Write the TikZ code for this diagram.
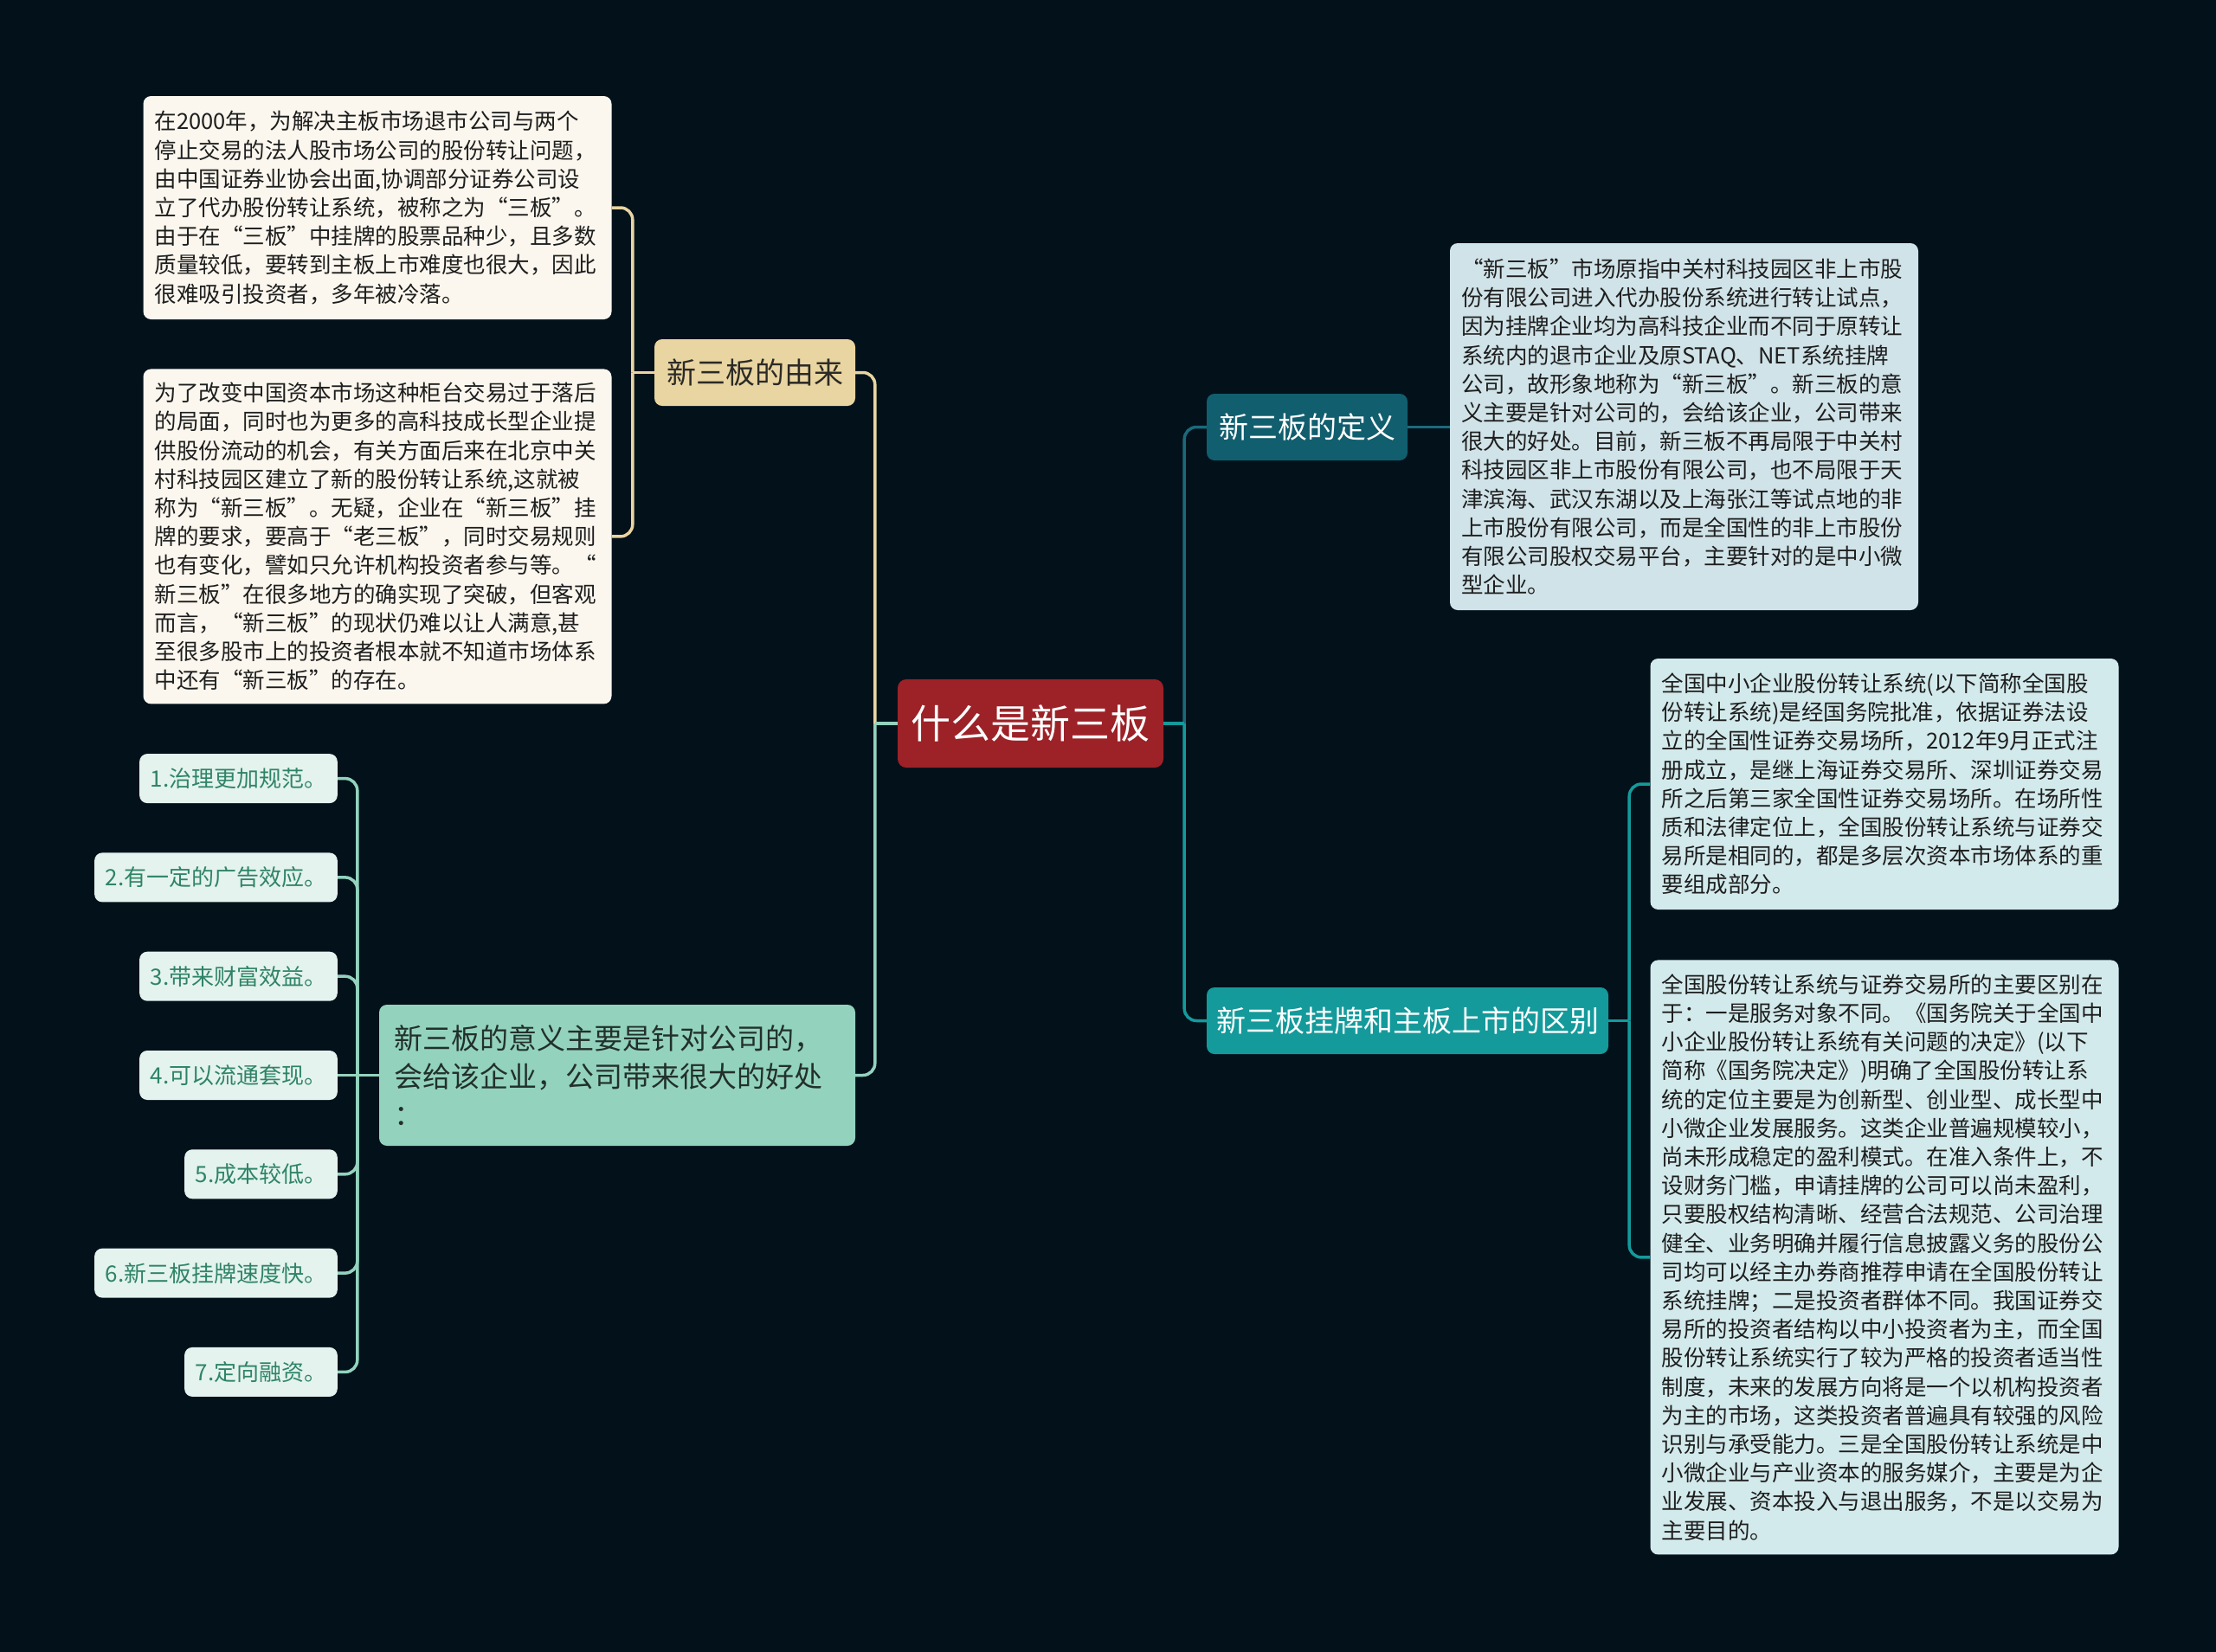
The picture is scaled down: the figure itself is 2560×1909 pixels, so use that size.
\documentclass[tikz,border=0pt]{standalone}
\usepackage{fontspec}
\setmainfont{Noto Sans CJK SC}
\usepackage{tikz}
\usetikzlibrary{positioning}

\definecolor{bgdark}{HTML}{03111B}
\definecolor{rootred}{HTML}{9C2228}
\definecolor{origfill}{HTML}{E9D5A1}
\definecolor{origtext}{HTML}{2B2A26}
\definecolor{cream}{HTML}{FBF7EE}
\definecolor{sigfill}{HTML}{93D3BE}
\definecolor{sigtext}{HTML}{22302C}
\definecolor{itemfill}{HTML}{E4F3EE}
\definecolor{itemtext}{HTML}{2F8466}
\definecolor{deffill}{HTML}{115E6E}
\definecolor{defbox}{HTML}{D0E3E8}
\definecolor{difffill}{HTML}{149A9B}
\definecolor{diffbox}{HTML}{D3EAEC}
\definecolor{notetext}{HTML}{1E1E1E}
\definecolor{deepteal}{HTML}{1B6A7A}

\begin{document}
\begin{tikzpicture}[
    x=1pt, y=-1pt,
    root/.style={fill=rootred, rounded corners=10pt, text=white, minimum width=307pt, minimum height=102pt, inner sep=0pt, font=\fontsize{46pt}{55pt}\selectfont},
    topic/.style={rounded corners=9pt, minimum height=77pt, inner sep=0pt, font=\fontsize{34pt}{40pt}\selectfont},
    note/.style={rounded corners=9pt, inner xsep=13pt, inner ysep=0pt, text width=515pt, align=left, text=notetext, font=\fontsize{25.5pt}{33.2pt}\selectfont},
    item/.style={fill=itemfill, text=itemtext, rounded corners=9pt, minimum height=57pt, inner xsep=12.5pt, inner ysep=0pt, anchor=east, font=\fontsize{26pt}{30pt}\selectfont},
    link/.style={line width=3.5pt, rounded corners=14pt}
]

\fill[bgdark] (0,0) rectangle (2560,1909);
\useasboundingbox (0,0) rectangle (2560,1909);

\node[root] (ctr) at (1190.5,836) {什么是新三板};

% Origin branch
\node[topic, fill=origfill, text=origtext, minimum width=232pt] (origin) at (872,430.5) {新三板的由来};
\node[note, fill=cream, minimum height=258pt] (hist1) at (436,240) {在2000年，为解决主板市场退市公司与两个\\停止交易的法人股市场公司的股份转让问题，\\由中国证券业协会出面,协调部分证券公司设\\立了代办股份转让系统，被称之为“三板”。\\由于在“三板”中挂牌的股票品种少，且多数\\质量较低，要转到主板上市难度也很大，因此\\很难吸引投资者，多年被冷落。};
\node[note, fill=cream, minimum height=387pt, below=57pt of hist1] (hist2) {为了改变中国资本市场这种柜台交易过于落后\\的局面，同时也为更多的高科技成长型企业提\\供股份流动的机会，有关方面后来在北京中关\\村科技园区建立了新的股份转让系统,这就被\\称为“新三板”。无疑，企业在“新三板”挂\\牌的要求，要高于“老三板”，同时交易规则\\也有变化，譬如只允许机构投资者参与等。“\\新三板”在很多地方的确实现了突破，但客观\\而言，“新三板”的现状仍难以让人满意,甚\\至很多股市上的投资者根本就不知道市场体系\\中还有“新三板”的存在。};

% Significance branch
\node[topic, fill=sigfill, text=sigtext, minimum width=550pt, minimum height=163pt, text width=516pt, inner xsep=17pt, align=left, font=\fontsize{33pt}{44pt}\selectfont] (sig) at (713,1242.5) {新三板的意义主要是针对公司的，\\会给该企业，公司带来很大的好处\\：};
\node[item] (i1) at (390,899.6) {1.治理更加规范。};
\node[item] (i2) at (390,1013.9) {2.有一定的广告效应。};
\node[item] (i3) at (390,1128.2) {3.带来财富效益。};
\node[item] (i4) at (390,1242.5) {4.可以流通套现。};
\node[item] (i5) at (390,1356.8) {5.成本较低。};
\node[item] (i6) at (390,1471.1) {6.新三板挂牌速度快。};
\node[item] (i7) at (390,1585.4) {7.定向融资。};

% Definition branch
\node[topic, fill=deffill, text=white, minimum width=232pt] (defn) at (1510,493.5) {新三板的定义};
\node[note, fill=defbox, minimum height=424pt] (defnote) at (1945.5,493) {“新三板”市场原指中关村科技园区非上市股\\份有限公司进入代办股份系统进行转让试点，\\因为挂牌企业均为高科技企业而不同于原转让\\系统内的退市企业及原STAQ、NET系统挂牌\\公司，故形象地称为“新三板”。新三板的意\\义主要是针对公司的，会给该企业，公司带来\\很大的好处。目前，新三板不再局限于中关村\\科技园区非上市股份有限公司，也不局限于天\\津滨海、武汉东湖以及上海张江等试点地的非\\上市股份有限公司，而是全国性的非上市股份\\有限公司股权交易平台，主要针对的是中小微\\型企业。};

% Difference branch
\node[topic, fill=difffill, text=white, minimum width=464pt] (diff) at (1626,1179.5) {新三板挂牌和主板上市的区别};
\node[note, fill=diffbox, minimum height=290pt] (diff1) at (2177,906) {全国中小企业股份转让系统(以下简称全国股\\份转让系统)是经国务院批准，依据证券法设\\立的全国性证券交易场所，2012年9月正式注\\册成立，是继上海证券交易所、深圳证券交易\\所之后第三家全国性证券交易场所。在场所性\\质和法律定位上，全国股份转让系统与证券交\\易所是相同的，都是多层次资本市场体系的重\\要组成部分。};
\node[note, fill=diffbox, minimum height=687pt, below=58pt of diff1] (diff2) {全国股份转让系统与证券交易所的主要区别在\\于：一是服务对象不同。《国务院关于全国中\\小企业股份转让系统有关问题的决定》(以下\\简称《国务院决定》)明确了全国股份转让系\\统的定位主要是为创新型、创业型、成长型中\\小微企业发展服务。这类企业普遍规模较小，\\尚未形成稳定的盈利模式。在准入条件上，不\\设财务门槛，申请挂牌的公司可以尚未盈利，\\只要股权结构清晰、经营合法规范、公司治理\\健全、业务明确并履行信息披露义务的股份公\\司均可以经主办券商推荐申请在全国股份转让\\系统挂牌；二是投资者群体不同。我国证券交\\易所的投资者结构以中小投资者为主，而全国\\股份转让系统实行了较为严格的投资者适当性\\制度，未来的发展方向将是一个以机构投资者\\为主的市场，这类投资者普遍具有较强的风险\\识别与承受能力。三是全国股份转让系统是中\\小微企业与产业资本的服务媒介，主要是为企\\业发展、资本投入与退出服务，不是以交易为\\主要目的。};

% Junctions
\coordinate (lj) at ([xshift=-26pt]ctr.west);
\coordinate (rj) at ([xshift=24pt]ctr.east);
\coordinate (oj) at ([xshift=-25pt]origin.west);
\coordinate (sj) at ([xshift=-25pt]sig.west);
\coordinate (dj) at ([xshift=24pt]diff.east);

% Left connectors
\draw[link, origfill] (lj) |- (origin.east);
\draw[link, origfill] (oj) |- (hist1.east);
\draw[link, origfill] (oj) |- (hist2.east);
\draw[link, origfill] (origin.west) -- (oj);
\draw[link, sigfill] (lj) |- (sig.east);
\draw[link, sigfill] (ctr.west) -- (lj);
\draw[link, sigfill] (sig.west) -- (sj);
\draw[link, sigfill] (sj) |- (i1.east);
\draw[link, sigfill] (sj) |- (i2.east);
\draw[link, sigfill] (sj) |- (i3.east);
\draw[link, sigfill] (sj) -- (i4.east);
\draw[link, sigfill] (sj) |- (i5.east);
\draw[link, sigfill] (sj) |- (i6.east);
\draw[link, sigfill] (sj) |- (i7.east);

% Right connectors
\draw[link, deepteal] (rj) |- (defn.west);
\draw[link, deepteal] (defn.east) -- (defnote.west |- defn.east);
\draw[link, difffill] (rj) |- (diff.west);
\draw[link, difffill] (ctr.east) -- (rj);
\draw[link, difffill] (diff.east) -- (dj);
\draw[link, difffill] (dj) |- (diff1.west);
\draw[link, difffill] (dj) |- (diff2.west);

\end{tikzpicture}
\end{document}
